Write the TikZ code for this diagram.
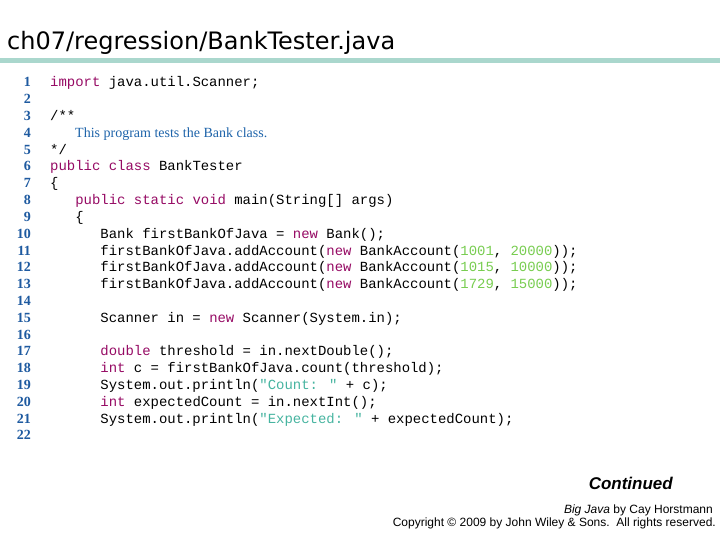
\documentclass[tikz,border=0pt]{standalone}
\usepackage{fontspec}
\setmainfont{Liberation Sans}
\newfontfamily\codef{Liberation Mono}
\newfontfamily\titlef{DejaVu Sans}
\newfontfamily\cmtf{Liberation Serif}
\definecolor{kw}{RGB}{150,10,100}
\definecolor{cmt}{RGB}{30,100,170}
\definecolor{num}{RGB}{120,205,80}
\definecolor{str}{RGB}{70,180,160}
\definecolor{ln}{RGB}{30,90,160}
\definecolor{band}{RGB}{170,215,205}
\newcommand{\K}[1]{\textcolor{kw}{#1}}
\newcommand{\N}[1]{\textcolor{num}{#1}}
\newcommand{\St}[1]{\textcolor{str}{#1}}
\begin{document}
\begin{tikzpicture}[x=1pt,y=-1pt,
  code/.style={anchor=base west,inner sep=0pt,font=\codef\fontsize{13.95}{14}\selectfont},
  lnum/.style={anchor=base east,inner sep=0pt,text=ln,font=\cmtf\bfseries\fontsize{14}{14}\selectfont}]
\useasboundingbox (0,0) rectangle (720,540);
\fill[white] (0,0) rectangle (720,540);
\node[anchor=base west,inner sep=0pt,font=\titlef\fontsize{24}{25}\selectfont] (title) at (7,50) {ch07/regression/BankTester.java};
\fill[band] (0,58) rectangle (720,63);
\foreach \i in {1,...,22} {\node[lnum] (n\i) at (31,{87+(\i-1)*16.8}) {\i};}
\def\L#1#2{\node[code] (c#1) at (50,{87+(#1-1)*16.8}) {#2};}
\L{1}{\K{import} java.util.Scanner;}
\L{3}{/**}
\node[anchor=base west,inner sep=0pt,text=cmt,font=\cmtf\fontsize{14}{14}\selectfont] (c4) at (75,{87+3*16.8}) {This program tests the Bank class.};
\L{5}{*/}
\L{6}{\K{public} \K{class} BankTester}
\L{7}{\{}
\L{8}{\ \ \ \K{public} \K{static} \K{void} main(String[] args)}
\L{9}{\ \ \ \{}
\L{10}{\ \ \ \ \ \ Bank firstBankOfJava = \K{new} Bank();}
\L{11}{\ \ \ \ \ \ firstBankOfJava.addAccount(\K{new} BankAccount(\N{1001}, \N{20000}));}
\L{12}{\ \ \ \ \ \ firstBankOfJava.addAccount(\K{new} BankAccount(\N{1015}, \N{10000}));}
\L{13}{\ \ \ \ \ \ firstBankOfJava.addAccount(\K{new} BankAccount(\N{1729}, \N{15000}));}
\L{15}{\ \ \ \ \ \ Scanner in = \K{new} Scanner(System.in);}
\L{17}{\ \ \ \ \ \ \K{double} threshold = in.nextDouble();}
\L{18}{\ \ \ \ \ \ \K{int} c = firstBankOfJava.count(threshold);}
\L{19}{\ \ \ \ \ \ System.out.println(\St{"Count: "} + c);}
\L{20}{\ \ \ \ \ \ \K{int} expectedCount = in.nextInt();}
\L{21}{\ \ \ \ \ \ System.out.println(\St{"Expected: "} + expectedCount);}
\node[anchor=base east,inner sep=0pt,font=\bfseries\itshape\fontsize{17}{18}\selectfont] (cont) at (673,489) {Continued};
\node[anchor=base east,inner sep=0pt,font=\fontsize{12}{12}\selectfont] (by) at (713,513) {\textit{Big Java} by Cay Horstmann};
\node[anchor=base east,inner sep=0pt,font=\fontsize{12}{12}\selectfont] (copy) at (716,526) {Copyright \textcopyright{} 2009 by John Wiley \& Sons.\ \ All rights reserved.};
\end{tikzpicture}
\end{document}
